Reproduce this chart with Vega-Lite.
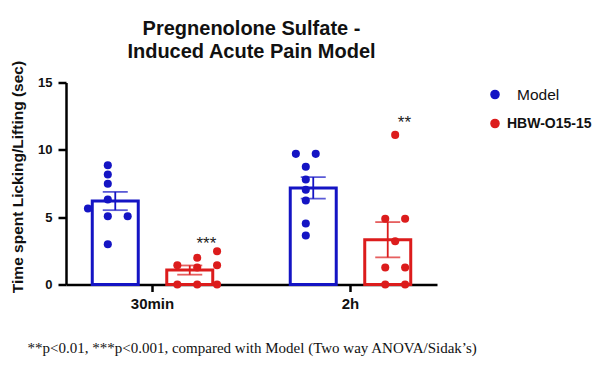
{
  "$schema": "https://vega.github.io/schema/vega-lite/v6.json",
  "autosize": {"type": "none"},
  "width": 371,
  "height": 202,
  "padding": {"left": 66, "top": 82.5, "right": 163, "bottom": 83.5},
  "background": "white",
  "title": {
    "text": ["Pregnenolone Sulfate -", "Induced Acute Pain Model"],
    "font": "Liberation Sans",
    "fontSize": 20,
    "fontWeight": "bold",
    "lineHeight": 23,
    "color": "#111111",
    "anchor": "middle",
    "frame": "group",
    "offset": -2
  },
  "datasets": {
    "pts": [
      {"time": "30min", "group": "Model", "value": 8.86, "pos": "M0"},
      {"time": "30min", "group": "Model", "value": 8.17, "pos": "M0"},
      {"time": "30min", "group": "Model", "value": 7.48, "pos": "M0"},
      {"time": "30min", "group": "Model", "value": 6.31, "pos": "M0"},
      {"time": "30min", "group": "Model", "value": 5.64, "pos": "M-2"},
      {"time": "30min", "group": "Model", "value": 5.07, "pos": "M0"},
      {"time": "30min", "group": "Model", "value": 5.07, "pos": "M2"},
      {"time": "30min", "group": "Model", "value": 2.99, "pos": "M0"},
      {"time": "30min", "group": "HBW-O15-15", "value": 2.47, "pos": "H2"},
      {"time": "30min", "group": "HBW-O15-15", "value": 1.98, "pos": "H0"},
      {"time": "30min", "group": "HBW-O15-15", "value": 1.43, "pos": "H-2"},
      {"time": "30min", "group": "HBW-O15-15", "value": 1.43, "pos": "H2"},
      {"time": "30min", "group": "HBW-O15-15", "value": 1.26, "pos": "H0"},
      {"time": "30min", "group": "HBW-O15-15", "value": 0, "pos": "H-2"},
      {"time": "30min", "group": "HBW-O15-15", "value": 0, "pos": "H0"},
      {"time": "30min", "group": "HBW-O15-15", "value": 0, "pos": "H2"},
      {"time": "2h", "group": "Model", "value": 9.7, "pos": "M-1"},
      {"time": "2h", "group": "Model", "value": 9.7, "pos": "M1"},
      {"time": "2h", "group": "Model", "value": 8.74, "pos": "M0"},
      {"time": "2h", "group": "Model", "value": 7.8, "pos": "M0"},
      {"time": "2h", "group": "Model", "value": 7.03, "pos": "M0"},
      {"time": "2h", "group": "Model", "value": 6.24, "pos": "M0"},
      {"time": "2h", "group": "Model", "value": 4.53, "pos": "M0"},
      {"time": "2h", "group": "Model", "value": 3.64, "pos": "M0"},
      {"time": "2h", "group": "HBW-O15-15", "value": 11.11, "pos": "H0"},
      {"time": "2h", "group": "HBW-O15-15", "value": 4.88, "pos": "H-1"},
      {"time": "2h", "group": "HBW-O15-15", "value": 4.88, "pos": "H1"},
      {"time": "2h", "group": "HBW-O15-15", "value": 3.21, "pos": "H0"},
      {"time": "2h", "group": "HBW-O15-15", "value": 1.26, "pos": "H-1"},
      {"time": "2h", "group": "HBW-O15-15", "value": 1.26, "pos": "H1"},
      {"time": "2h", "group": "HBW-O15-15", "value": 0, "pos": "H-1"},
      {"time": "2h", "group": "HBW-O15-15", "value": 0, "pos": "H1"}
    ],
    "ann": [
      {"time": "30min", "group": "HBW-O15-15", "label": "***", "value": 2.6},
      {"time": "2h", "group": "HBW-O15-15", "label": "**", "value": 11.6}
    ]
  },
  "encoding": {
    "x": {
      "field": "time",
      "type": "nominal",
      "sort": ["30min", "2h"],
      "scale": {"domain": ["30min", "2h"], "paddingInner": 0.2475, "paddingOuter": 0.0607},
      "axis": {
        "title": "**p<0.01, ***p<0.001, compared with Model (Two way ANOVA/Sidak’s)",
        "titleFont": "Liberation Serif",
        "titleFontSize": 15,
        "titleFontWeight": "normal",
        "titleColor": "#111111",
        "titleAlign": "left",
        "titleAnchor": "start",
        "titleBaseline": "middle",
        "titleX": -39,
        "titleY": 63,
        "labelAngle": 0,
        "labelFont": "Liberation Sans",
        "labelFontSize": 15,
        "labelFontWeight": "bold",
        "labelColor": "#111111",
        "labelPadding": 5,
        "tickSize": 7
      }
    }
  },
  "layer": [
    {
      "data": {"name": "pts"},
      "mark": {"type": "bar", "filled": false, "strokeWidth": 3},
      "encoding": {
        "xOffset": {"field": "group", "type": "nominal", "scale": {"domain": ["Model", "HBW-O15-15"], "paddingInner": 0.3826, "paddingOuter": 0.1913}},
        "y": {"aggregate": "mean", "field": "value", "type": "quantitative", "title": "Time spent Licking/Lifting (sec)"},
        "color": {"field": "group", "type": "nominal", "scale": {"domain": ["Model", "HBW-O15-15"], "range": ["#1414c4", "#dc1c1c"]}}
      }
    },
    {
      "data": {"name": "pts"},
      "mark": {"type": "errorbar", "extent": "stderr", "ticks": true, "size": 25, "thickness": 1.8},
      "encoding": {
        "xOffset": {"field": "group", "type": "nominal", "scale": {"domain": ["Model", "HBW-O15-15"], "paddingInner": 0.3826, "paddingOuter": 0.1913}},
        "y": {"field": "value", "type": "quantitative", "title": "Time spent Licking/Lifting (sec)"},
        "color": {"field": "group", "type": "nominal"}
      }
    },
    {
      "data": {"name": "pts"},
      "mark": {"type": "circle", "size": 65, "opacity": 1},
      "encoding": {
        "xOffset": {"field": "pos", "type": "nominal", "scale": {"type": "point", "domain": ["M-2", "M-1", "M0", "M1", "M2", "_a", "_b", "_c", "_d", "H-2", "H-1", "H0", "H1", "H2"], "padding": 2.5}},
        "y": {
          "field": "value",
          "type": "quantitative",
          "title": "Time spent Licking/Lifting (sec)",
          "scale": {"domain": [0, 15], "nice": false},
          "axis": {
            "values": [0, 5, 10, 15],
            "title": "Time spent Licking/Lifting (sec)",
            "titleFont": "Liberation Sans",
            "titleFontSize": 15.5,
            "titleFontWeight": "bold",
            "titleColor": "#111111",
            "titleX": -49,
            "titleY": 94,
            "titleBaseline": "middle",
            "titleAlign": "center",
            "labelFont": "Liberation Sans",
            "labelFontSize": 13,
            "labelFontWeight": "bold",
            "labelColor": "#111111",
            "labelPadding": 6,
            "tickSize": 8
          }
        },
        "color": {
          "field": "group",
          "type": "nominal",
          "legend": {
            "title": null,
            "orient": "none",
            "legendX": 422,
            "legendY": 5,
            "symbolType": "circle",
            "symbolSize": 65,
            "labelOffset": {"expr": "datum.label === 'Model' ? 15 : 5"},
            "labelLimit": 300,
            "rowPadding": 12,
            "padding": 0,
            "labelFont": "Liberation Sans",
            "labelColor": "#111111",
            "labelFontSize": {"expr": "datum.label === 'Model' ? 15.5 : 14"},
            "labelFontWeight": {"expr": "datum.label === 'Model' ? 'normal' : 'bold'"},
            "encode": {
              "symbols": {
                "update": {
                  "fill": {"scale": "color", "field": "value"},
                  "fillOpacity": {"value": 1},
                  "strokeWidth": {"value": 0},
                  "opacity": {"value": 1}
                }
              }
            }
          }
        }
      }
    },
    {
      "data": {"name": "ann"},
      "mark": {"type": "text", "font": "Liberation Sans", "fontSize": 17, "color": "#222222", "baseline": "alphabetic"},
      "encoding": {
        "xOffset": {"field": "group", "type": "nominal", "scale": {"domain": ["Model", "HBW-O15-15"], "paddingInner": 0.3826, "paddingOuter": 0.1913}},
        "y": {"field": "value", "type": "quantitative", "title": "Time spent Licking/Lifting (sec)"},
        "text": {"field": "label"}
      }
    }
  ],
  "resolve": {"scale": {"xOffset": "independent"}},
  "config": {
    "view": {"stroke": null},
    "axis": {
      "grid": false,
      "domainColor": "#000000",
      "domainWidth": 2.5,
      "tickColor": "#000000",
      "tickWidth": 2.5
    }
  }
}
